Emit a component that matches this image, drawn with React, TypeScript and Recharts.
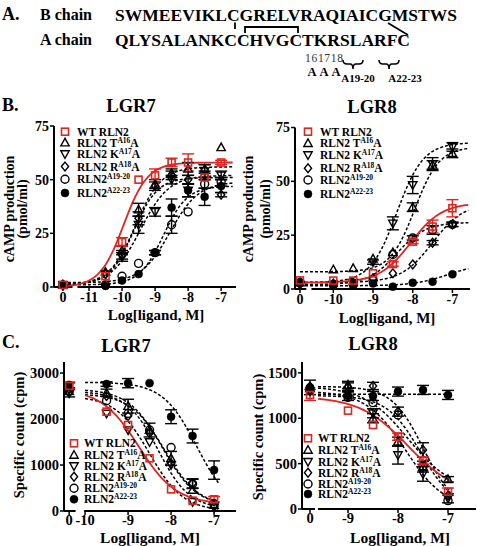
import React from 'react';
import { ComposedChart, Line, Scatter, XAxis, YAxis, ErrorBar, ReferenceLine } from 'recharts';

const FONT = '"Liberation Serif", "Times New Roman", serif';
const RED = '#e3231f';

// Series identity (legend order)
const SERIES_KEYS = ['wt', 't16', 'k17', 'r18', 'a1920', 'a2223'];
const SERIES_MARKS = ['square', 'tri', 'tridown', 'diamond', 'circle', 'dot'];
const SERIES_MAIN = ['WT RLN2', 'RLN2 T', 'RLN2 K', 'RLN2 R', 'RLN2', 'RLN2'];
const SERIES_SUP = ['', 'A16', 'A17', 'A18', 'A19-20', 'A22-23'];
const SERIES_TAIL = ['', 'A', 'A', 'A', '', ''];

// ---------- Panel B, LGR7 (cAMP, pmol/ml); first value = no ligand ("0") ----------
const B7_DOSES = [-10.5, -10, -9.5, -9, -8.5, -8, -7.5, -7];
const B7_WT = [1, 5, 21, 50, 52, 58, 58, 51, 58];
const B7_T16 = [1, 7, 17, 36, 48, 53, 55, 55, 65];
const B7_K17 = [1, 6, 14, 29, 35, 50, 45, 54, 52];
const B7_R18 = [1, 6, 15, 32, 47, 52, 50, 52, 43];
const B7_A1920 = [1, 1, 5, 11, 16, 29, 35, 48, 49];
const B7_A2223 = [1, 0.5, 3, 6, 16, 37, 45, 42, 47];
const B7_WT_ERR = [0, 0, 2, 0, 3, 2, 4, 0, 1];
const B7_T16_ERR = [0, 0, 2, 3, 2, 2, 3, 2, 0];
const B7_K17_ERR = [0, 0, 2, 4, 2, 2, 3, 3, 2];
const B7_R18_ERR = [0, 0, 2, 3, 2, 2, 2, 2, 1];
const B7_A1920_ERR = [0, 0, 0, 0, 1, 4, 0, 2, 2];
const B7_A2223_ERR = [0, 0, 0, 0, 1, 4, 3, 4, 3];
// fitted curves: [bottom, top, logEC50, hill]
const B7_FIT_WT = [0, 58, -9.95, 1.2];
const B7_FIT_T16 = [1, 56, -9.6, 1.1];
const B7_FIT_K17 = [1, 52, -9.45, 1.0];
const B7_FIT_R18 = [1, 51, -9.65, 1.2];
const B7_FIT_A1920 = [2, 49, -8.55, 1.0];
const B7_FIT_A2223 = [1, 47, -8.75, 1.2];

// ---------- Panel B, LGR8 ----------
const B8_DOSES = [-10, -9.5, -9, -8.5, -8, -7.5, -7];
const B8_WT = [4, 3.9, 3.9, 7.3, 11.6, 22, 29, 37.5];
const B8_T16 = [3, 9, 9.6, 14, 17, 38, 57.6, 63];
const B8_K17 = [2, 2, 3, 12.5, 30.5, 48.3, 58, 66];
const B8_R18 = [3, 2.5, 3, 5, 7.3, 11.4, 21.5, 30];
const B8_A1920 = [3, 2, 2, 4, 16, 23.7, 27.4, 30];
const B8_A2223 = [2.5, 1.5, 1.9, 2.6, 1.1, 2.9, 3.4, 6.8];
const B8_WT_ERR = [0, 0, 0, 0, 1, 1, 3, 4];
const B8_T16_ERR = [0, 0, 0, 0, 0, 2, 2, 2];
const B8_K17_ERR = [0, 0, 0, 1, 3, 4, 3, 2];
const B8_R18_ERR = [0, 0, 0, 0, 0, 0, 1, 1];
const B8_A1920_ERR = [0, 0, 0, 0, 0, 1, 2, 1];
const B8_A2223_ERR = [0, 0, 0, 0, 0, 0, 0, 0];
const B8_FIT_WT = [3, 40, -8.05, 1.1];
const B8_FIT_T16 = [8, 66, -7.95, 1.4];
const B8_FIT_K17 = [3, 68, -8.4, 1.3];
const B8_FIT_R18 = [3, 40, -7.5, 1.1];
const B8_FIT_A1920 = [2, 31, -8.4, 1.2];
const B8_FIT_A2223 = [1.5, 12, -7.1, 1.0];

// ---------- Panel C, LGR7 (specific count, cpm) ----------
const C7_DOSES = [-9.5, -9, -8.5, -8, -7.5, -7];
const C7_WT = [2720, 2160, 1870, 1145, 470, 225, 255];
const C7_T16 = [2600, 2570, 2280, 1760, 1145, 457, 130];
const C7_K17 = [2560, 2120, 1760, 1500, 1000, 200, 80];
const C7_R18 = [2650, 2500, 2065, 1690, 1036, 600, 100];
const C7_A1920 = [2600, 2400, 2120, 1760, 1380, 590, 160];
const C7_A2223 = [2740, 2760, 2780, 2780, 2050, 1630, 890];
const C7_WT_ERR = [60, 0, 0, 0, 0, 0, 60];
const C7_T16_ERR = [0, 80, 150, 150, 150, 0, 0];
const C7_K17_ERR = [80, 0, 0, 0, 0, 0, 0];
const C7_R18_ERR = [0, 0, 0, 0, 0, 100, 0];
const C7_A1920_ERR = [0, 0, 0, 0, 0, 100, 0];
const C7_A2223_ERR = [60, 50, 100, 0, 150, 150, 200];
const C7_FIT_WT = [150, 2650, -8.75, 1.0];
const C7_FIT_T16 = [100, 2650, -8.2, 1.1];
const C7_FIT_K17 = [0, 2500, -8.5, 1.1];
const C7_FIT_R18 = [50, 2600, -8.3, 1.2];
const C7_FIT_A1920 = [100, 2550, -8.15, 1.1];
const C7_FIT_A2223 = [0, 2800, -7.4, 1.1];

// ---------- Panel C, LGR8 ----------
const C8_DOSES = [-9, -8.5, -8, -7.5, -7];
const C8_WT = [1257, 1084, 926, 797, 533, 191];
const C8_T16 = [1330, 1367, 1000, 742, 467, 327];
const C8_K17 = [1300, 1275, 1055, 595, 386, 118];
const C8_R18 = [1350, 1340, 1356, 1073, 650, 150];
const C8_A1920 = [1310, 1230, 1172, 1036, 474, 92];
const C8_A2223 = [1340, 1246, 1246, 1294, 1312, 1257];
const C8_WT_ERR = [60, 0, 0, 40, 40, 40];
const C8_T16_ERR = [0, 40, 50, 50, 60, 30];
const C8_K17_ERR = [0, 30, 50, 100, 80, 50];
const C8_R18_ERR = [0, 50, 40, 50, 80, 0];
const C8_A1920_ERR = [0, 0, 0, 0, 0, 0];
const C8_A2223_ERR = [80, 50, 50, 50, 50, 50];
const C8_FIT_WT = [150, 1240, -7.8, 0.9];
const C8_FIT_T16 = [200, 1350, -7.8, 1.0];
const C8_FIT_K17 = [0, 1300, -7.85, 1.1];
const C8_FIT_R18 = [0, 1350, -7.5, 1.4];
const C8_FIT_A1920 = [0, 1250, -7.55, 1.3];
const C8_FIT_A2223 = [1265, 1265, -8, 1.0];

type Pt = { x: number; y: number; err: number | null };

function toPoints(ctrlX: number, doses: number[], vals: number[], errs: number[]): Pt[] {
  return vals.map((v, i) => ({ x: i === 0 ? ctrlX : doses[i - 1], y: v, err: errs[i] ? errs[i] : null }));
}

function fitCurve(p: number[], from: number, to: number, falling: boolean) {
  const [bottom, top, mid, hill] = p;
  const out: { x: number; y: number }[] = [];
  const n = 120;
  for (let i = 0; i <= n; i++) {
    const x = from + ((to - from) * i) / n;
    const e = falling ? (x - mid) * hill : (mid - x) * hill;
    out.push({ x, y: bottom + (top - bottom) / (1 + Math.pow(10, e)) });
  }
  return out;
}

function Mark({ kind, cx, cy, color, size = 8 }: any) {
  if (cx == null || cy == null) return null;
  const s = size / 2;
  const sw = 1.4;
  switch (kind) {
    case 'square':
      return <rect x={cx - s + 0.5} y={cy - s + 0.5} width={2 * s - 1} height={2 * s - 1} fill="none" stroke={color} strokeWidth={sw + 0.2} />;
    case 'tri':
      return <polygon points={`${cx},${cy - s * 1.1} ${cx - s * 1.05},${cy + s * 0.8} ${cx + s * 1.05},${cy + s * 0.8}`} fill="none" stroke={color} strokeWidth={sw} />;
    case 'tridown':
      return <polygon points={`${cx},${cy + s * 1.1} ${cx - s * 1.05},${cy - s * 0.8} ${cx + s * 1.05},${cy - s * 0.8}`} fill="none" stroke={color} strokeWidth={sw} />;
    case 'diamond':
      return <polygon points={`${cx},${cy - s * 1.1} ${cx + s * 0.9},${cy} ${cx},${cy + s * 1.1} ${cx - s * 0.9},${cy}`} fill="none" stroke={color} strokeWidth={sw} />;
    case 'circle':
      return <circle cx={cx} cy={cy} r={s} fill="none" stroke={color} strokeWidth={sw} />;
    default:
      return <circle cx={cx} cy={cy} r={s} fill={color} stroke={color} strokeWidth={0.5} />;
  }
}

function buildSeries(ctrlX: number, doses: number[], vals: number[][], errs: number[][], fits: number[][], range: number[], falling: boolean) {
  return SERIES_KEYS.map((key, i) => ({
    key,
    kind: SERIES_MARKS[i],
    color: i === 0 ? RED : '#000',
    points: toPoints(ctrlX, doses, vals[i], errs[i]),
    curve: fitCurve(fits[i], range[0], range[1], falling),
  }));
}

const B7_CTRL = -11.79;
const B8_CTRL = -10.84;
const C7_CTRL = -10.37;
const C8_CTRL = -9.76;

const PANELS = [
  {
    id: 'b7', left: 0, top: 100, width: 240, height: 217,
    margin: { top: 26, right: 4, bottom: 0, left: 0 }, yWidth: 54,
    xDomain: [-12.06, -6.55], yDomain: [0, 75], ctrlX: B7_CTRL,
    xTicks: [B7_CTRL, -11, -10, -9, -8, -7], yTicks: [0, 25, 50, 75],
    segs: [[-12.06, -11.5], [-11.35, -6.55]], tickFont: 14, xTickMargin: 1,
    series: buildSeries(B7_CTRL, B7_DOSES,
      [B7_WT, B7_T16, B7_K17, B7_R18, B7_A1920, B7_A2223],
      [B7_WT_ERR, B7_T16_ERR, B7_K17_ERR, B7_R18_ERR, B7_A1920_ERR, B7_A2223_ERR],
      [B7_FIT_WT, B7_FIT_T16, B7_FIT_K17, B7_FIT_R18, B7_FIT_A1920, B7_FIT_A2223],
      [B7_CTRL, -6.65], false),
  },
  {
    id: 'b8', left: 240, top: 100, width: 237, height: 219,
    margin: { top: 27.5, right: 7, bottom: 0, left: 0 }, yWidth: 55,
    xDomain: [-10.965, -6.557], yDomain: [0, 75], ctrlX: B8_CTRL,
    xTicks: [B8_CTRL, -10, -9, -8, -7], yTicks: [0, 25, 50, 75],
    segs: [[-10.965, -10.68], [-10.55, -6.557]], tickFont: 14, xTickMargin: 1,
    series: buildSeries(B8_CTRL, B8_DOSES,
      [B8_WT, B8_T16, B8_K17, B8_R18, B8_A1920, B8_A2223],
      [B8_WT_ERR, B8_T16_ERR, B8_K17_ERR, B8_R18_ERR, B8_A1920_ERR, B8_A2223_ERR],
      [B8_FIT_WT, B8_FIT_T16, B8_FIT_K17, B8_FIT_R18, B8_FIT_A1920, B8_FIT_A2223],
      [B8_CTRL, -6.6], false),
  },
  {
    id: 'c7', left: 0, top: 340, width: 240, height: 201,
    margin: { top: 22, right: 4, bottom: 0, left: 0 }, yWidth: 64,
    xDomain: [-10.49, -6.49], yDomain: [0, 3240], ctrlX: C7_CTRL,
    xTicks: [C7_CTRL, -10, -9, -8, -7], yTicks: [0, 1000, 2000, 3000],
    segs: [[-10.49, -10.22], [-10.02, -6.49]], tickFont: 14.5, xTickMargin: 0,
    series: buildSeries(C7_CTRL, C7_DOSES,
      [C7_WT, C7_T16, C7_K17, C7_R18, C7_A1920, C7_A2223],
      [C7_WT_ERR, C7_T16_ERR, C7_K17_ERR, C7_R18_ERR, C7_A1920_ERR, C7_A2223_ERR],
      [C7_FIT_WT, C7_FIT_T16, C7_FIT_K17, C7_FIT_R18, C7_FIT_A1920, C7_FIT_A2223],
      [-10.0, -6.9], true),
  },
  {
    id: 'c8', left: 240, top: 340, width: 237, height: 199,
    margin: { top: 22, right: 1, bottom: 0, left: 0 }, yWidth: 62,
    xDomain: [-9.92, -6.44], yDomain: [0, 1620], ctrlX: C8_CTRL,
    xTicks: [C8_CTRL, -9, -8, -7], yTicks: [0, 500, 1000, 1500],
    segs: [[-9.92, -9.66], [-9.6, -6.44]], tickFont: 14.5, xTickMargin: 0,
    series: buildSeries(C8_CTRL, C8_DOSES,
      [C8_WT, C8_T16, C8_K17, C8_R18, C8_A1920, C8_A2223],
      [C8_WT_ERR, C8_T16_ERR, C8_K17_ERR, C8_R18_ERR, C8_A1920_ERR, C8_A2223_ERR],
      [C8_FIT_WT, C8_FIT_T16, C8_FIT_K17, C8_FIT_R18, C8_FIT_A1920, C8_FIT_A2223],
      [-9.6, -6.95], true),
  },
];

function Panel({ cfg }: any) {
  const tickStyle = { fill: '#000', fontSize: cfg.tickFont, fontWeight: 'bold', fontFamily: FONT };
  const ordered = [...cfg.series.slice(1), cfg.series[0]];
  return (
    <div style={{ position: 'absolute', left: cfg.left, top: cfg.top }}>
      <ComposedChart width={cfg.width} height={cfg.height} margin={cfg.margin}>
        <XAxis
          type="number" dataKey="x" domain={cfg.xDomain} ticks={cfg.xTicks} interval={0}
          tickFormatter={(v: number) => (v === cfg.ctrlX ? '0' : String(v))}
          axisLine={false} tickLine={{ stroke: '#000', strokeWidth: 1.5 }} tickSize={4} tickMargin={cfg.xTickMargin}
          tick={tickStyle} height={30}
        />
        <YAxis
          type="number" dataKey="y" domain={cfg.yDomain} ticks={cfg.yTicks} interval={0}
          axisLine={{ stroke: '#000', strokeWidth: 2 }} tickLine={{ stroke: '#000', strokeWidth: 1.5 }}
          tickSize={4} tickMargin={1} width={cfg.yWidth} tick={tickStyle}
        />
        {cfg.segs.map((sg: number[], i: number) => (
          <ReferenceLine key={'seg' + i} segment={[{ x: sg[0], y: cfg.yDomain[0] }, { x: sg[1], y: cfg.yDomain[0] }]}
            stroke="#000" strokeWidth={2} ifOverflow="visible" />
        ))}
        {ordered.map((s: any) => (
          <Line key={'l' + s.key} data={s.curve} dataKey="y" type="linear" dot={false} activeDot={false}
            stroke={s.color} strokeWidth={s.key === 'wt' ? 1.8 : 1.5}
            strokeDasharray={s.key === 'wt' ? undefined : '3 2'} isAnimationActive={false} />
        ))}
        {ordered.map((s: any) => (
          <Scatter key={'s' + s.key} data={s.points} dataKey="y" isAnimationActive={false}
            shape={(p: any) => <Mark kind={s.kind} cx={p.cx} cy={p.cy} color={s.color} size={8} />}>
            <ErrorBar dataKey="err" direction="y" width={6} stroke={s.color} strokeWidth={1.4} />
          </Scatter>
        ))}
      </ComposedChart>
    </div>
  );
}

function LegendBlock({ mx, tx, ys }: { mx: number; tx: number; ys: number[] }) {
  return (
    <g>
      {SERIES_KEYS.map((k, i) => (
        <g key={k}>
          <Mark kind={SERIES_MARKS[i]} cx={mx} cy={ys[i]} color={i === 0 ? RED : '#000'} size={8} />
          <text x={tx} y={ys[i] + 4} fontSize={11.5} fontWeight="bold" fontFamily={FONT} fill="#000">
            {SERIES_MAIN[i]}
            {SERIES_SUP[i] ? <tspan dy={-4} fontSize={7.5}>{SERIES_SUP[i]}</tspan> : null}
            {SERIES_TAIL[i] ? <tspan dy={4} fontSize={11.5}>{SERIES_TAIL[i]}</tspan> : null}
          </text>
        </g>
      ))}
    </g>
  );
}

function Brace({ x1, x2, y }: { x1: number; x2: number; y: number }) {
  const m = (x1 + x2) / 2;
  const d = `M${x1} ${y} Q${x1} ${y + 4} ${x1 + 4} ${y + 4} L${m - 3} ${y + 4} Q${m} ${y + 4} ${m} ${y + 9} Q${m} ${y + 4} ${m + 3} ${y + 4} L${x2 - 4} ${y + 4} Q${x2} ${y + 4} ${x2} ${y}`;
  return <path d={d} fill="none" stroke="#000" strokeWidth={1.6} />;
}

function Overlay() {
  const T = { fontFamily: FONT, fontWeight: 'bold' as const, fill: '#000' };
  return (
    <svg width={477} height={546} style={{ position: 'absolute', left: 0, top: 0, pointerEvents: 'none' }}>
      {/* Panel A */}
      <text x={2} y={20} fontSize={18} {...T}>A.</text>
      <text x={40} y={20} fontSize={16} {...T}>B chain</text>
      <text x={115} y={21} fontSize={17.5} textLength={342} lengthAdjust="spacing" {...T}>SWMEEVIKLCGRELVRAQIAICGMSTWS</text>
      <text x={40} y={45} fontSize={16} {...T}>A chain</text>
      <text x={115} y={46} fontSize={17.5} textLength={295} lengthAdjust="spacing" {...T}>QLYSALANKCCHVGCTKRSLARFC</text>
      <line x1={235} y1={22.5} x2={235} y2={29} stroke="#000" strokeWidth={1.8} />
      <path d="M245 33 L245 27 L298 27 L298 33" fill="none" stroke="#000" strokeWidth={1.8} />
      <line x1={388} y1={23} x2={408} y2={35} stroke="#000" strokeWidth={1.8} />
      <text x={305} y={61.5} fontSize={11.5} fontFamily={FONT} fill="#333" textLength={38} lengthAdjust="spacing">161718</text>
      <text x={312} y={76} fontSize={12.5} textAnchor="middle" {...T}>A</text>
      <text x={324} y={76} fontSize={12.5} textAnchor="middle" {...T}>A</text>
      <text x={336} y={76} fontSize={12.5} textAnchor="middle" {...T}>A</text>
      <Brace x1={343} x2={363} y={60} />
      <Brace x1={379} x2={399} y={60} />
      <text x={358} y={82} fontSize={11} textAnchor="middle" {...T}>A19-20</text>
      <text x={405} y={82} fontSize={11} textAnchor="middle" {...T}>A22-23</text>

      {/* Panel B */}
      <text x={2} y={111} fontSize={18} {...T}>B.</text>
      <text x={131} y={112} fontSize={18.5} textAnchor="middle" {...T}>LGR7</text>
      <text x={372} y={113} fontSize={18.5} textAnchor="middle" {...T}>LGR8</text>
      <text transform="translate(14,209) rotate(-90)" fontSize={14} textAnchor="middle" {...T}>cAMP production</text>
      <text transform="translate(27,209) rotate(-90)" fontSize={14} textAnchor="middle" {...T}>(pmol/ml)</text>
      <text transform="translate(253,209) rotate(-90)" fontSize={14} textAnchor="middle" {...T}>cAMP production</text>
      <text transform="translate(270,209) rotate(-90)" fontSize={14} textAnchor="middle" {...T}>(pmol/ml)</text>
      <text x={156} y={320} fontSize={15} textAnchor="middle" {...T}>Log[ligand, M]</text>
      <text x={387} y={323} fontSize={15} textAnchor="middle" {...T}>Log[ligand, M]</text>
      <LegendBlock mx={65} tx={77} ys={[131.7, 142.7, 154, 166.5, 179.3, 193]} />
      <LegendBlock mx={308} tx={320} ys={[131.7, 143.3, 155, 168.3, 180, 194]} />

      {/* Panel C */}
      <text x={2} y={348} fontSize={18} {...T}>C.</text>
      <text x={126} y={352} fontSize={18.5} textAnchor="middle" {...T}>LGR7</text>
      <text x={373} y={350} fontSize={18.5} textAnchor="middle" {...T}>LGR8</text>
      <text transform="translate(24,435) rotate(-90)" fontSize={14.5} textAnchor="middle" {...T}>Specific count (cpm)</text>
      <text transform="translate(263,437) rotate(-90)" fontSize={14.5} textAnchor="middle" {...T}>Specific count (cpm)</text>
      <text x={150} y={543} fontSize={15.5} textAnchor="middle" {...T}>Log[ligand, M]</text>
      <text x={400} y={543} fontSize={15.5} textAnchor="middle" {...T}>Log[ligand, M]</text>
      <LegendBlock mx={74} tx={84} ys={[443.3, 455, 466, 476.7, 488.3, 499.3]} />
      <LegendBlock mx={308} tx={318} ys={[438.3, 450, 461.7, 472.7, 484, 494]} />
    </svg>
  );
}

export default function App() {
  return (
    <div style={{ position: 'absolute', left: 0, top: 0, width: 477, height: 546, background: '#fff', overflow: 'hidden' }}>
      {PANELS.map((p) => (
        <Panel key={p.id} cfg={p} />
      ))}
      <Overlay />
    </div>
  );
}
